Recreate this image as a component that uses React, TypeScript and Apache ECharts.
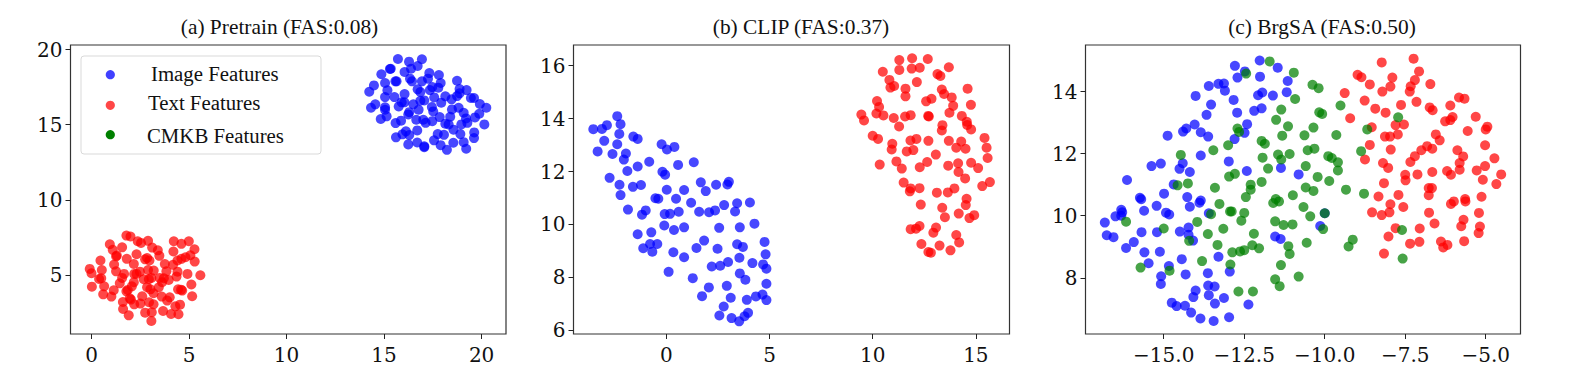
import React, { useEffect, useRef } from "react";
import * as echarts from "echarts";

const imageA = [[15.71,19.38],[16.28,19.2],[16.94,19.36],[16.72,18.91],[16.38,18.73],[16.05,18.51],[15.34,18.73],[15.3,18.71],[14.86,18.36],[17.32,18.44],[17.81,18.31],[17.25,18.07],[16.33,18.07],[16.43,17.89],[16.94,17.89],[15.58,17.89],[15.64,17.89],[15.05,17.78],[14.48,17.62],[14.24,17.2],[15.17,17.29],[17.9,17.78],[18.74,17.93],[17.47,17.51],[17.78,17.47],[17.35,17.31],[16.72,17.36],[16.86,17.18],[18.87,17.38],[19.23,17.31],[18.87,17.09],[18.74,16.91],[16.05,17.04],[15.05,16.84],[15.53,16.84],[17.57,16.82],[18.14,16.89],[18.46,16.69],[19.45,16.78],[19.61,16.78],[19.91,16.38],[20.24,16.13],[17.06,16.62],[16.86,16.6],[15.9,16.49],[16.04,16.49],[16.5,16.36],[15.75,16.22],[14.55,16.36],[14.33,16.13],[15.05,16.16],[15.05,16],[17.93,16.47],[17.45,16.18],[17.52,15.89],[16.77,16],[16.29,15.84],[16.24,15.69],[15.13,15.56],[14.83,15.38],[15.87,15.27],[15.59,15.11],[16.65,15.33],[17.01,15.33],[17.13,15.13],[17.47,15.24],[17.85,15.51],[18.39,15.53],[18.48,16.02],[18.82,16.13],[19.08,15.8],[19.2,15.42],[19.27,15.13],[18.96,15.02],[19.66,15.49],[19.88,15.73],[20.14,15.02],[18.14,15.07],[18.31,15.02],[18.56,14.67],[19.62,14.49],[19.61,14.11],[18.91,14.38],[18.07,14.33],[17.75,14.38],[16.7,14.62],[16.12,14.56],[15.94,14.36],[15.61,14.16],[16.29,14.31],[16.24,13.69],[16.7,13.82],[17.06,13.56],[17.06,13.51],[17.56,13.96],[17.9,13.64],[18.22,13.33],[18.55,13.8],[19.08,13.84],[19.21,13.4]];
const textA = [[1.79,7.62],[2,7.56],[2.37,7.24],[2.54,7.13],[2.9,7.27],[4.22,7.24],[4.61,7.07],[4.99,7.24],[0.94,7.04],[1.09,6.67],[1.57,6.84],[3.11,6.82],[3.4,6.64],[3.48,6.27],[1.3,6.29],[1.26,6.24],[2.31,6.38],[4.2,6.56],[5.28,6.71],[5.07,6.31],[4.82,6.18],[4.61,6.07],[4.41,5.96],[5.29,5.89],[0.46,5.96],[1.81,6.07],[2.75,6.04],[2.85,6.13],[2.97,5.96],[1.16,5.69],[2.17,5.73],[3.76,5.73],[4.18,5.67],[-0.09,5.4],[0.53,5.33],[0,5.11],[1.26,5.24],[1.67,5.07],[1.57,4.8],[2.9,5.33],[3.19,5.29],[2.48,5.22],[2.19,5.07],[2.31,5.07],[3.84,5.24],[4.41,5.22],[4.36,4.89],[4.92,5.07],[5.58,4.98],[0.39,4.73],[0.5,4.78],[2.68,4.71],[2.94,4.71],[3.07,4.8],[3.5,4.8],[3.71,4.78],[3.62,4.51],[3.96,4.67],[1.45,4.44],[2.17,4.51],[2.07,4.24],[0.65,4.24],[0.02,4.22],[5.12,4.36],[2.85,4.18],[3.02,4.04],[3.45,4.18],[4.44,4.04],[4.65,3.96],[4.59,4.02],[1.14,3.98],[1.86,4],[1.79,3.91],[3.18,3.78],[0.6,3.71],[1.02,3.56],[2.6,3.58],[3.6,3.56],[5.16,3.58],[1.96,3.44],[2.02,3.36],[4.01,3.51],[3.88,3.29],[1.61,3.2],[2.95,3.18],[2.19,3.04],[2.51,3.09],[3.18,3.04],[4.54,3.02],[4.3,2.91],[1.62,2.73],[3.67,2.6],[2.75,2.49],[3.09,2.51],[4.08,2.4],[4.46,2.38],[1.91,2.31],[3.07,1.93]];
const imageB = [[-2.38,14.09],[-3.54,13.6],[-3.12,13.61],[-2.88,13.75],[-2.22,13.79],[-2.28,13.42],[-1.6,13.32],[-1.39,13.23],[-3.01,13.16],[-2.38,13.03],[-0.23,13.03],[0.03,12.83],[0.39,12.93],[-3.33,12.76],[-2.61,12.66],[-1.96,12.68],[-2.06,12.45],[-0.83,12.37],[1.33,12.35],[0.57,12.25],[-1.39,12.19],[-1.89,12.02],[-0.19,11.99],[-0.06,11.88],[-2.75,11.76],[3.03,11.61],[2.96,11.51],[1.67,11.59],[2.41,11.5],[-2.27,11.5],[-1.62,11.42],[-1.23,11.49],[0.02,11.31],[0.86,11.3],[1.91,11.26],[-2.22,11.11],[-0.53,10.99],[-0.39,10.97],[0.47,10.97],[1.2,10.82],[2.8,10.73],[3.43,10.8],[4.05,10.83],[-1.86,10.56],[-1,10.53],[-1.18,10.37],[-0.08,10.39],[0.18,10.4],[0.6,10.48],[1.59,10.48],[2.07,10.46],[2.36,10.53],[3.33,10.49],[4.27,10.03],[-0.1,9.96],[0.37,9.79],[0.86,9.89],[2.56,9.87],[3.56,9.89],[-0.73,9.7],[-1.39,9.63],[1.83,9.39],[4.76,9.34],[-0.79,9.26],[-0.44,9.26],[3.43,9.25],[3.71,9.15],[-1.12,9.1],[1.46,9.11],[2.48,9.08],[-0.68,8.97],[0.34,8.95],[4.81,8.87],[0.86,8.76],[3.54,8.74],[2.99,8.58],[4.17,8.54],[4.69,8.49],[2.2,8.41],[2.61,8.44],[4.85,8.33],[0.11,8.21],[1.28,7.97],[3.56,8.15],[3.83,7.91],[4.85,7.76],[2.93,7.68],[2.06,7.62],[1.73,7.29],[3.12,7.23],[4.34,7.28],[4.66,7.35],[3.9,7.15],[4.85,7.14],[2.78,6.9],[2.57,6.56],[3.96,6.66],[3.79,6.53],[3.16,6.46],[3.53,6.34]];
const textB = [[11.29,16.21],[11.91,16.28],[12.67,16.25],[13.69,15.94],[11.29,15.84],[11.89,15.89],[12.28,15.92],[10.49,15.77],[13.14,15.68],[13.28,15.61],[10.81,15.46],[12.14,15.38],[11.04,15.23],[10.86,15.17],[11.59,15.13],[13.35,15.1],[14.6,15.13],[13.46,14.93],[13.83,14.8],[11.59,14.84],[12.85,14.75],[12.59,14.65],[10.21,14.66],[10.31,14.44],[14.76,14.52],[13.9,14.48],[9.45,14.15],[10.18,14.19],[10.52,14.12],[11.57,14.08],[11.84,14.13],[12.69,14.1],[12.72,14.08],[13.72,14.22],[14.32,14.1],[11.02,14.02],[9.58,13.93],[14.56,13.88],[14.58,13.76],[13.38,13.75],[13.35,13.55],[11.28,13.7],[14.77,13.59],[10,13.35],[10.26,13.23],[15.42,13.27],[11.83,13.17],[12.12,13.23],[12.7,13.16],[13.69,13.16],[14.29,13.13],[10.95,13.05],[14.05,12.9],[14.5,12.86],[15.52,12.9],[10.92,12.83],[11.65,12.76],[11.97,12.81],[13.06,12.64],[15.57,12.51],[11.15,12.38],[14.77,12.33],[12.64,12.36],[10.34,12.26],[14.14,12.31],[13.66,12.22],[12.28,12.16],[11.41,12.11],[15.11,12.13],[14.16,11.98],[14.48,11.74],[11.5,11.58],[15.68,11.6],[15.31,11.45],[13.96,11.36],[11.84,11.36],[12.27,11.37],[11.8,11.25],[13.11,11.2],[13.64,11.21],[14.55,10.97],[14.51,10.73],[12.33,10.75],[13.37,10.63],[14.17,10.41],[14.92,10.35],[14.69,10.24],[13.5,10.27],[12.27,9.94],[11.84,9.82],[12.1,9.84],[13.07,9.88],[12.94,9.69],[14.05,9.6],[14.19,9.32],[12.36,9.26],[13.24,9.2],[13.77,9.02],[12.7,8.96],[12.82,8.93]];
const imageC = [[-12.02,15],[-12.79,14.83],[-11.46,14.77],[-12.48,14.65],[-12.71,14.45],[-12.01,14.48],[-11.15,14.34],[-13.6,14.18],[-13.3,14.25],[-13.13,14.26],[-13.1,14.03],[-11.18,13.98],[-11.94,13.97],[-12.07,13.88],[-11.61,13.87],[-14.01,13.86],[-12.83,13.73],[-13.53,13.58],[-11.96,13.46],[-12.19,13.38],[-12.72,13.32],[-13.67,13.25],[-12.41,12.95],[-14.04,12.94],[-14.3,12.81],[-14.4,12.71],[-13.85,12.69],[-12.49,12.67],[-14.88,12.58],[-13.62,12.55],[-12.8,12.47],[-13.85,11.94],[-12.98,11.75],[-15.38,11.6],[-15.09,11.68],[-14.41,11.69],[-14.51,11.51],[-14.19,11.41],[-12.42,11.44],[-11.36,11.54],[-10.81,11.33],[-16.14,11.15],[-14.69,11.01],[-14.99,10.71],[-14.27,10.6],[-15.74,10.58],[-15.7,10.53],[-13.85,10.49],[-13.89,10.42],[-15.22,10.32],[-14.19,10.29],[-15.61,10.16],[-16.32,10.19],[-16.29,10.11],[-14.93,10.1],[-14.83,10.04],[-13.6,10.08],[-16.32,10],[-16.5,9.98],[-16.83,9.78],[-10,10.08],[-10.14,9.67],[-14.23,9.62],[-14.5,9.49],[-15.21,9.47],[-15.69,9.47],[-14.23,9.39],[-14.09,9.2],[-11.54,9.33],[-11.37,9.25],[-16.77,9.37],[-16.56,9.31],[-15.93,9.15],[-16.17,8.96],[-15.6,8.82],[-15.12,8.84],[-15.47,8.47],[-14.44,8.6],[-13.3,8.68],[-14.84,8.38],[-12.95,8.2],[-15.08,8.05],[-14.32,8.11],[-13.63,8.15],[-15.09,7.8],[-13.62,7.75],[-13.42,7.72],[-14.01,7.59],[-14.08,7.38],[-13.6,7.44],[-13.13,7.35],[-14.75,7.2],[-14.6,7.09],[-14.34,7.1],[-13.41,7.17],[-12.37,7.14],[-14.15,6.88],[-13.86,6.69],[-13.45,6.61],[-12.97,6.73]];
const textC = [[-7.24,15.06],[-8.23,14.94],[-7.07,14.65],[-8.98,14.54],[-8.86,14.46],[-7.9,14.45],[-7.2,14.37],[-8.6,14.23],[-6.72,14.24],[-7.33,14.17],[-7.96,14.16],[-8.21,14],[-7.36,14],[-9.38,13.95],[-5.83,13.81],[-5.66,13.77],[-8.76,13.71],[-7.15,13.67],[-7.63,13.57],[-6.1,13.55],[-6.74,13.49],[-6.65,13.4],[-8.43,13.45],[-8.11,13.32],[-9.21,13.14],[-5.31,13.19],[-6.03,13.18],[-6.26,13.04],[-6.1,13.08],[-7.8,12.92],[-7.54,12.94],[-4.95,12.87],[-5,12.78],[-8.54,12.85],[-5.56,12.73],[-7.73,12.62],[-6.55,12.62],[-8.13,12.55],[-7.97,12.55],[-6.43,12.43],[-8.6,12.28],[-5.02,12.27],[-6.82,12.24],[-6.66,12.16],[-7,12.11],[-7.95,12.13],[-5.88,12.11],[-7.2,11.92],[-5.7,11.91],[-8.75,11.81],[-4.73,11.85],[-7.34,11.73],[-8.19,11.7],[-5.81,11.7],[-8.03,11.54],[-5.02,11.6],[-5.81,11.48],[-5.28,11.46],[-6.2,11.44],[-6.66,11.41],[-7.5,11.32],[-7.12,11.33],[-6.08,11.32],[-4.52,11.33],[-7.49,11.14],[-5.09,11.16],[-8.16,11.05],[-4.67,11.02],[-6.77,10.89],[-6.67,10.89],[-7.71,10.67],[-6.77,10.66],[-8.33,10.62],[-5.13,10.61],[-5.64,10.54],[-5.63,10.46],[-5.99,10.46],[-6.08,10.38],[-7.96,10.37],[-7.56,10.28],[-8.53,10.11],[-7.99,10.11],[-6.76,10.1],[-5.21,10.09],[-8.23,10.02],[-5.69,9.87],[-6.59,9.75],[-5.76,9.66],[-5.18,9.65],[-7.8,9.6],[-7.05,9.59],[-5.22,9.44],[-8.02,9.33],[-7.06,9.16],[-5.67,9.18],[-6.39,9.17],[-7.35,9.1],[-6.19,9.06],[-6.32,8.98],[-8.16,8.78]];
const cmkbC = [[-11.71,14.97],[-10.96,14.61],[-12.44,14.58],[-10.38,14.22],[-10.19,14.11],[-10.92,13.76],[-9.51,13.55],[-11.35,13.42],[-10.17,13.33],[-10.08,13.28],[-11.51,13.09],[-7.72,13.17],[-11.14,12.88],[-10.35,12.84],[-8.68,12.78],[-12.71,12.81],[-12.66,12.7],[-11.32,12.58],[-10.63,12.59],[-9.64,12.6],[-11.96,12.41],[-11.86,12.32],[-13,12.27],[-13.46,12.11],[-10.32,12.16],[-10.53,12.11],[-8.87,12.08],[-11.09,11.99],[-11.45,11.97],[-14.47,11.96],[-11.93,11.87],[-9.89,11.92],[-9.78,11.86],[-11.35,11.81],[-9.59,11.72],[-10.59,11.6],[-11.76,11.52],[-9.59,11.46],[-12.79,11.35],[-12.97,11.26],[-10.22,11.25],[-9.86,11.12],[-11.96,11.09],[-14.25,11.04],[-14.57,10.98],[-12.3,11],[-12.3,10.84],[-13.41,10.9],[-10.59,10.91],[-9.34,10.84],[-10.35,10.8],[-8.78,10.71],[-10.99,10.66],[-12.45,10.6],[-11.52,10.54],[-11.42,10.46],[-11.6,10.41],[-13.27,10.38],[-10.66,10.28],[-12.94,10.14],[-12.89,10.14],[-12.5,10.09],[-13.53,10.05],[-10,10.08],[-10.45,9.98],[-12.59,9.84],[-13.96,9.8],[-16.17,9.81],[-11.54,9.82],[-11.28,9.7],[-11,9.72],[-15,9.59],[-13.15,9.58],[-10.05,9.57],[-7.6,9.54],[-12.2,9.42],[-13.63,9.41],[-9.13,9.23],[-14.21,9.19],[-10.56,9.13],[-13.33,9.06],[-12.25,9.05],[-11.13,9.02],[-9.26,9.01],[-12.04,8.95],[-12.5,8.89],[-12.63,8.85],[-12.87,8.82],[-11.09,8.77],[-7.58,8.62],[-13.81,8.54],[-12.93,8.43],[-11.36,8.41],[-15.72,8.33],[-14.82,8.23],[-10.81,8.04],[-11.54,7.95],[-11.4,7.73],[-12.68,7.56],[-12.23,7.56]];

const titles = ["(a) Pretrain (FAS:0.08)", "(b) CLIP (FAS:0.37)", "(c) BrgSA (FAS:0.50)"];
const legendLabels = ["Image Features", "Text Features", "CMKB Features"];
const xTicksA = [0, 5, 10, 15, 20];
const yTicksA = [5, 10, 15, 20];
const xTicksB = [0, 5, 10, 15];
const yTicksB = [6, 8, 10, 12, 14, 16];
const xTicksC = [-15, -12.5, -10, -7.5, -5];
const yTicksC = [8, 10, 12, 14];
const xRangeA = [-1.076, 21.25];
const yRangeA = [1.067, 20.31];
const xRangeB = [-4.5, 16.63];
const yRangeB = [5.86, 16.78];
const xRangeC = [-17.43, -3.92];
const yRangeC = [6.19, 15.5];

const SERIF = '"Liberation Serif", serif';
const TICK_FONT = '"DejaVu Serif", serif';
const BLUE = "#0000ff";
const RED = "#ff0000";
const GREEN = "#008000";

const panels = [
  { left: 70.5, right: 506, x: xRangeA, y: yRangeA, xt: xTicksA, yt: yTicksA, tx: 274.5, s: [[imageA, BLUE], [textA, RED]] },
  { left: 573.5, right: 1009.5, x: xRangeB, y: yRangeB, xt: xTicksB, yt: yTicksB, tx: 796, s: [[imageB, BLUE], [textB, RED]] },
  { left: 1085.5, right: 1520.5, x: xRangeC, y: yRangeC, xt: xTicksC, yt: yTicksC, tx: 1317, s: [[imageC, BLUE], [textC, RED], [cmkbC, GREEN]] },
];

const axisCommon = (range: number[], ticks: number[], fmt: (v: number) => string, margin: number) => ({
  type: "value",
  min: range[0],
  max: range[1],
  splitLine: { show: false },
  axisLine: { show: false, onZero: false },
  axisTick: { show: true, inside: false, length: 5, customValues: ticks, lineStyle: { color: "#222", width: 1 } },
  axisLabel: { show: true, customValues: ticks, formatter: fmt, margin, fontFamily: TICK_FONT, fontSize: 20, color: "#111", hideOverlap: false },
});

const buildOption = () => ({
  animation: false,
  backgroundColor: "#ffffff",
  title: panels.map((p, i) => ({
    text: titles[i],
    left: p.tx,
    top: 11,
    textAlign: "center",
    textStyle: { fontFamily: SERIF, fontSize: 21.4, fontWeight: "normal", color: "#111" },
  })),
  grid: panels.map((p) => ({
    show: true,
    left: p.left,
    width: p.right - p.left,
    top: 45,
    height: 289,
    borderColor: "#333",
    borderWidth: 1.2,
    backgroundColor: "transparent",
  })),
  xAxis: panels.map((p, i) => ({
    gridIndex: i,
    ...axisCommon(p.x, p.xt, (v: number) => (i === 2 ? v.toFixed(1).replace("-", "\u2212") : String(v)), 11),
  })),
  yAxis: panels.map((p, i) => ({
    gridIndex: i,
    ...axisCommon(p.y, p.yt, (v: number) => String(v), 8),
  })),
  series: panels.flatMap((p, i) =>
    p.s.map(([data, color]: any) => ({
      type: "scatter",
      xAxisIndex: i,
      yAxisIndex: i,
      data,
      symbol: "circle",
      symbolSize: 10,
      silent: true,
      itemStyle: { color, opacity: 0.72 },
    }))
  ),
  graphic: [
    { type: "rect", z: 50, shape: { x: 81, y: 56, width: 240, height: 98, r: 3 }, style: { fill: "rgba(255,255,255,0.8)", stroke: "#d9d9d9", lineWidth: 1 } },
    ...[[BLUE, 0.75, 74.7], [RED, 0.72, 105.3], [GREEN, 1, 134.7]].map(([c, op, cy]: any) => ({
      type: "circle", z: 51, shape: { cx: 110.3, cy, r: 4.6 }, style: { fill: c, opacity: op },
    })),
    ...[[73, 151], [102.5, 148], [135, 147]].map(([cy, x], i) => ({
      type: "text", z: 51, x, y: cy, style: { text: legendLabels[i], font: `20.8px ${SERIF}`, fill: "#111", verticalAlign: "middle" },
    })),
  ],
});

export default function App() {
  const ref = useRef<HTMLDivElement>(null);
  useEffect(() => {
    const chart = echarts.init(ref.current!, null, { renderer: "svg" });
    chart.setOption(buildOption() as any);
    return () => chart.dispose();
  }, []);
  return <div ref={ref} style={{ position: "absolute", left: 0, top: 0, width: 1577, height: 375 }} />;
}
